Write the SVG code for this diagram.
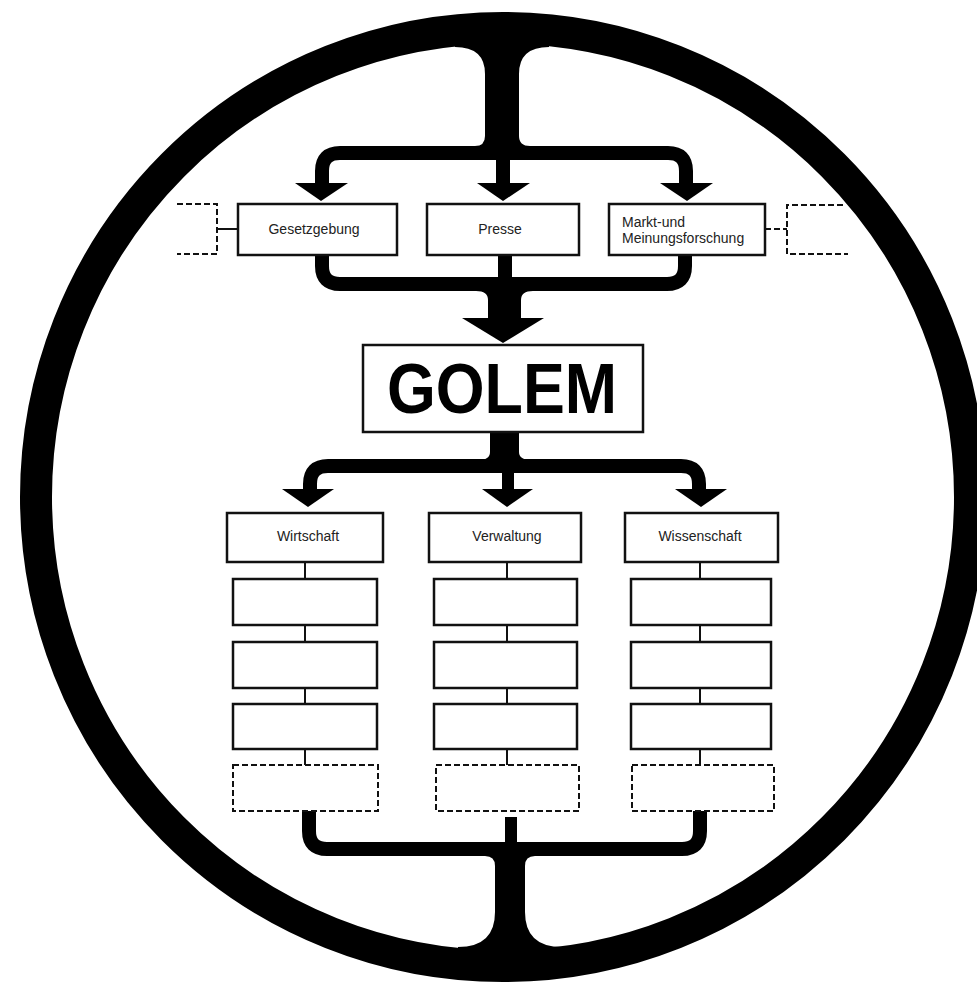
<svg xmlns="http://www.w3.org/2000/svg" width="977" height="984" viewBox="0 0 977 984">
<style>
.box{fill:#fff;stroke:#111;stroke-width:2.5}
.dbox{fill:#fff;stroke:#111;stroke-width:2;stroke-dasharray:6 3}
.dash{fill:none;stroke:#111;stroke-width:2;stroke-dasharray:6 3}
.thick{fill:none;stroke:#000;stroke-width:14;stroke-linejoin:round}
.thin{fill:none;stroke:#111;stroke-width:2}
.blk{fill:#000}
.lbl{font-family:"Liberation Sans",Arial,sans-serif;font-size:14px;fill:#222}
.big{font-family:"Liberation Sans",Arial,sans-serif;font-size:70px;font-weight:bold;fill:#000}
</style>
<rect width="977" height="984" fill="#fff"/>
<g id="connectors">
  <!-- top stem from ring -->
  <path class="blk" d="M455 28 L455 47 Q485 47 485 74 L485 136 Q485 146 475 146 L475 160 L530 160 L530 146 Q519 146 519 136 L519 74 Q519 47 549 47 L549 28 Z"/>
  <path class="thick" d="M502 153 L340 153 Q322 153 322 171 L322 186"/>
  <path class="thick" d="M502 153 L668 153 Q686 153 686 171 L686 186"/>
  <path class="thick" d="M503 150 L503 186"/>
  <polygon class="blk" points="295,183 348,183 321,201"/>
  <polygon class="blk" points="477,183 530,183 503,201"/>
  <polygon class="blk" points="660,183 713,183 687,201"/>
  <!-- dashed side brackets -->
  <path class="dash" d="M177 204 H217 V254 H177"/>
  <path class="thin" d="M217 229 H238"/>
  <path class="dash" d="M843 205 H787 V254 H848"/>
  <path class="dash" d="M765 229 H787"/>
  <!-- merge into GOLEM -->
  <path class="thick" d="M322 256 L322 266 Q322 284 340 284 L667 284 Q685 284 685 266 L685 256"/>
  <path class="thick" d="M505 256 L505 290"/>
  <path class="blk" d="M476 284 L476 291 Q488 291 488 300 L488 320 L521 320 L521 300 Q521 291 533 291 L533 284 Z"/>
  <polygon class="blk" points="462,318 544,318 503,343"/>
  <!-- GOLEM to branches -->
  <path class="blk" d="M490 432 L490 452 Q490 460 478 460 L478 473 L532 473 L532 460 Q519 460 519 452 L519 432 Z"/>
  <path class="thick" d="M505 466 L328 466 Q310 466 310 484 L310 492"/>
  <path class="thick" d="M505 466 L681 466 Q699 466 699 484 L699 492"/>
  <path class="thick" d="M508 466 L508 492" style="stroke-width:12"/>
  <polygon class="blk" points="282,489 334,489 308,507"/>
  <polygon class="blk" points="482,489 533,489 507,507"/>
  <polygon class="blk" points="675,489 727,489 701,507"/>
  <!-- column connectors -->
  <path class="thin" d="M305 562 V579 M305 625 V642 M305 688 V704 M305 749 V765"/>
  <path class="thin" d="M507 562 V579 M507 625 V642 M507 688 V704 M507 749 V765"/>
  <path class="thin" d="M700 562 V579 M700 625 V642 M700 688 V704 M700 749 V765"/>
  <!-- bottom merge to ring -->
  <path class="thick" d="M309 811 L309 831 Q309 849 327 849 L682 849 Q700 849 700 831 L700 811"/>
  <path class="thick" d="M511 817 L511 849" style="stroke-width:12"/>
  <path class="blk" d="M485 849 L485 856 Q495 856 495 866 L495 912 Q495 947 458 947 L458 972 L562 972 L562 947 Q525 947 525 912 L525 866 Q525 856 535 856 L535 849 Z"/>
</g>
<g id="ring">
  <ellipse cx="503" cy="497" rx="467" ry="469" fill="none" stroke="#000" stroke-width="32"/>
</g>
<g id="gesetzgebung">
  <rect class="box" x="238" y="204" width="159" height="51"/>
  <text class="lbl" x="314" y="234" text-anchor="middle">Gesetzgebung</text>
</g>
<g id="presse">
  <rect class="box" x="427" y="204" width="152" height="51"/>
  <text class="lbl" x="500" y="234" text-anchor="middle">Presse</text>
</g>
<g id="markt">
  <rect class="box" x="609" y="204" width="156" height="51"/>
  <text class="lbl" x="622" y="227">Markt-und</text>
  <text class="lbl" x="622" y="243">Meinungsforschung</text>
</g>
<g id="golem">
  <rect class="box" x="363" y="345" width="280" height="87"/>
  <text class="big" x="502" y="413" text-anchor="middle" textLength="230" lengthAdjust="spacingAndGlyphs">GOLEM</text>
</g>
<g id="wirtschaft">
  <rect class="box" x="227" y="513" width="156" height="49"/>
  <text class="lbl" x="308" y="541" text-anchor="middle">Wirtschaft</text>
</g>
<g id="wirtschaft-1"><rect class="box" x="233" y="579" width="144" height="46"/></g>
<g id="wirtschaft-2"><rect class="box" x="233" y="642" width="144" height="46"/></g>
<g id="wirtschaft-3"><rect class="box" x="233" y="704" width="144" height="45"/></g>
<g id="wirtschaft-4"><rect class="dbox" x="233" y="765" width="145" height="46"/></g>
<g id="verwaltung">
  <rect class="box" x="429" y="513" width="152" height="49"/>
  <text class="lbl" x="507" y="541" text-anchor="middle">Verwaltung</text>
</g>
<g id="verwaltung-1"><rect class="box" x="434" y="579" width="143" height="46"/></g>
<g id="verwaltung-2"><rect class="box" x="434" y="642" width="143" height="46"/></g>
<g id="verwaltung-3"><rect class="box" x="434" y="704" width="143" height="45"/></g>
<g id="verwaltung-4"><rect class="dbox" x="436" y="765" width="143" height="46"/></g>
<g id="wissenschaft">
  <rect class="box" x="625" y="513" width="153" height="49"/>
  <text class="lbl" x="700" y="541" text-anchor="middle">Wissenschaft</text>
</g>
<g id="wissenschaft-1"><rect class="box" x="631" y="579" width="140" height="46"/></g>
<g id="wissenschaft-2"><rect class="box" x="631" y="642" width="140" height="46"/></g>
<g id="wissenschaft-3"><rect class="box" x="631" y="704" width="140" height="45"/></g>
<g id="wissenschaft-4"><rect class="dbox" x="632" y="765" width="142" height="46"/></g>
</svg>
